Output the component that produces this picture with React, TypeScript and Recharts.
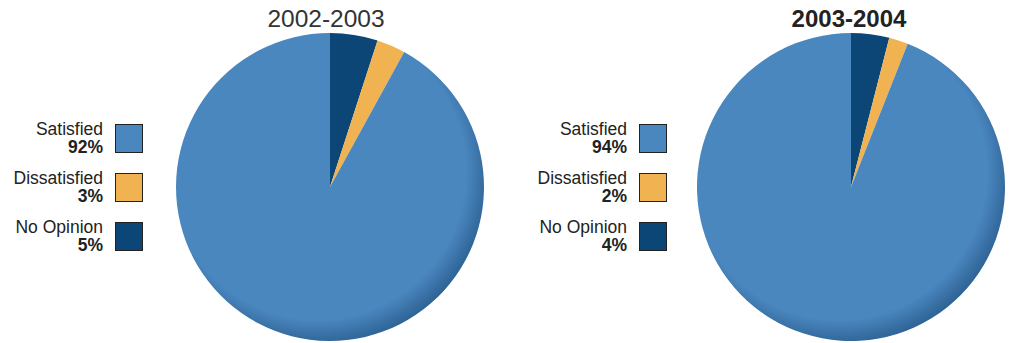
import React from 'react'
import { PieChart, Pie, Cell } from 'recharts'

const categories = ['No Opinion', 'Dissatisfied', 'Satisfied']
const colors = ['#0b4677', '#f1b352', '#4a87bf']
const values2002 = [5, 3, 92]
const values2004 = [4, 2, 94]
const years = ['2002-2003', '2003-2004']

const legendOrder = [2, 1, 0]

function Legend({ values, right, top }: { values: number[]; right: number; top: number }) {
  return (
    <div style={{ position: 'absolute', left: 0, width: right, top }}>
      {legendOrder.map((i, k) => (
        <div
          key={categories[i]}
          style={{
            position: 'absolute',
            right: 0,
            top: k * 49,
            display: 'flex',
            alignItems: 'center',
          }}
        >
          <div style={{ textAlign: 'right', marginRight: 12, lineHeight: '18px', color: '#222' }}>
            <div style={{ fontSize: 17.5 }}>{categories[i]}</div>
            <div style={{ fontSize: 17.5, fontWeight: 'bold' }}>{values[i]}%</div>
          </div>
          <div
            style={{
              width: 26,
              height: 27,
              background: colors[i],
              border: '1.5px solid #222',
            }}
          />
        </div>
      ))}
    </div>
  )
}

export default function App() {
  const d1 = categories.map((name, i) => ({ name, value: values2002[i] }))
  const d2 = categories.map((name, i) => ({ name, value: values2004[i] }))

  return (
    <div
      style={{
        position: 'absolute',
        left: 0,
        top: 0,
        width: 1024,
        height: 343,
        overflow: 'hidden',
        background: '#fff',
        fontFamily: 'Liberation Sans, Arial, sans-serif',
      }}
    >
      <PieChart width={1024} height={343} margin={{ top: 0, right: 0, bottom: 0, left: 0 }}>
        <defs>
          <radialGradient id="shade" cx="0.46" cy="0.45" r="0.56">
            <stop offset="0%" stopColor="#4a87bf" />
            <stop offset="86%" stopColor="#4a87bf" />
            <stop offset="100%" stopColor="#2f6496" />
          </radialGradient>
        </defs>
        {[d1, d2].map((d, p) => (
          <Pie
            key={p}
            data={d}
            dataKey="value"
            nameKey="name"
            cx={p === 0 ? 330 : 851}
            cy={187}
            outerRadius={154}
            startAngle={90}
            endAngle={-270}
            stroke="none"
            isAnimationActive={false}
          >
            {d.map((e, i) => (
              <Cell key={e.name} fill={i === 2 ? 'url(#shade)' : colors[i]} />
            ))}
          </Pie>
        ))}
      </PieChart>
      <div
        style={{
          position: 'absolute',
          left: 226,
          width: 200,
          top: 5,
          textAlign: 'center',
          fontSize: 24.5,
          color: '#333',
        }}
      >
        {years[0]}
      </div>
      <div
        style={{
          position: 'absolute',
          left: 749,
          width: 200,
          top: 5,
          textAlign: 'center',
          fontSize: 24,
          fontWeight: 'bold',
          color: '#222',
        }}
      >
        {years[1]}
      </div>
      <Legend values={values2002} right={143} top={120} />
      <Legend values={values2004} right={667} top={120} />
    </div>
  )
}
